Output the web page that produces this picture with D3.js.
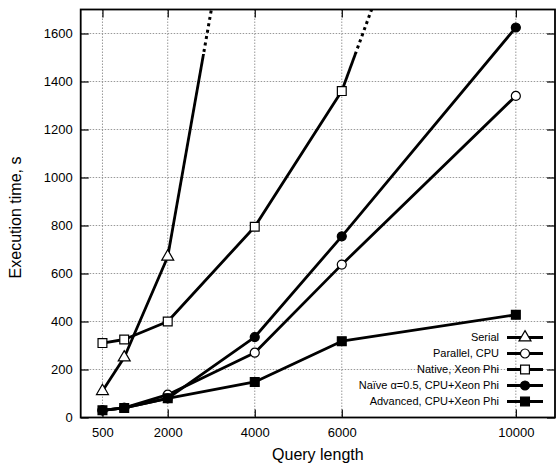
<!DOCTYPE html>
<html>
<head>
<meta charset="utf-8">
<script src="https://cdnjs.cloudflare.com/ajax/libs/d3/7.8.5/d3.min.js"></script>
<style>
  html, body { margin: 0; padding: 0; background: #fff; }
  text { font-family: "Liberation Sans", Arial, Helvetica, sans-serif; fill: #000; }
</style>
</head>
<body>
<svg id="chart" width="556" height="468"></svg>
<script>
// ---- Data ----
const queryLengths = [500, 1000, 2000, 4000, 6000, 10000];
const xTickValues = [500, 2000, 4000, 6000, 10000];
const yTickValues = [0, 200, 400, 600, 800, 1000, 1200, 1400, 1600];

const serialX = [500, 1000, 2000];
const serialY = [110, 250, 670];
const serialNext = [4000, 2724];      // next measurement, above the chart
const parallelY = [30, 40, 95, 270, 637, 1340];
const nativeX = [500, 1000, 2000, 4000, 6000];
const nativeY = [310, 325, 400, 795, 1360];
const nativeNext = [8000, 2352];      // next measurement, above the chart
const naiveY = [30, 40, 80, 335, 755, 1625];
const advancedY = [30, 40, 80, 148, 318, 428];

const seriesNames = ["Serial", "Parallel, CPU", "Native, Xeon Phi",
                     "Naïve α=0.5, CPU+Xeon Phi", "Advanced, CPU+Xeon Phi"];
const solidLimit = 1515; // above this value the off-chart segment is dotted

const xLabel = "Query length";
const yLabel = "Execution time, s";

// ---- Setup ----
const svg = d3.select("#chart");
const L = 80.7, R = 555, T = 9.5, B = 417.5;
const x = d3.scaleLinear().domain([0, 10900]).range([L, R]);
const y = d3.scaleLinear().domain([0, 1700]).range([B, T]);

const zip = (xs, ys) => xs.map((v, i) => [v, ys[i]]);
const series = [
  { name: seriesNames[0], pts: zip(serialX, serialY), next: serialNext, marker: "triangle", fill: "#fff" },
  { name: seriesNames[1], pts: zip(queryLengths, parallelY), marker: "circle", fill: "#fff" },
  { name: seriesNames[2], pts: zip(nativeX, nativeY), next: nativeNext, marker: "square", fill: "#fff" },
  { name: seriesNames[3], pts: zip(queryLengths, naiveY), marker: "circle", fill: "#000" },
  { name: seriesNames[4], pts: zip(queryLengths, advancedY), marker: "square", fill: "#000" }
];

// clip paths
const defs = svg.append("defs");
defs.append("clipPath").attr("id", "clipSolid").append("rect")
  .attr("x", L).attr("width", R - L)
  .attr("y", y(solidLimit)).attr("height", B - y(solidLimit));
defs.append("clipPath").attr("id", "clipDotted").append("rect")
  .attr("x", L).attr("width", R - L)
  .attr("y", T).attr("height", y(solidLimit) - T);

// ---- Grid ----
const grid = svg.append("g");
grid.selectAll("line.gy").data(yTickValues.filter(v => v > 0)).join("line")
  .attr("x1", L).attr("x2", R).attr("y1", d => y(d)).attr("y2", d => y(d))
  .attr("stroke", "#999").attr("stroke-width", 1).attr("stroke-dasharray", "1.5,1.5");
grid.selectAll("line.gx").data(xTickValues).join("line")
  .attr("y1", T).attr("y2", B).attr("x1", d => x(d)).attr("x2", d => x(d))
  .attr("stroke", "#999").attr("stroke-width", 1).attr("stroke-dasharray", "1.5,1.5");

// ---- Axes (gnuplot-style frame with inward mirrored ticks) ----
const tickLen = 8;
const axisBottom = d3.axisBottom(x).tickValues(xTickValues).tickSize(-tickLen).tickPadding(10).tickFormat(d3.format("d"));
const axisTop = d3.axisTop(x).tickValues(xTickValues).tickSize(-tickLen).tickFormat("");
const axisLeft = d3.axisLeft(y).tickValues(yTickValues).tickSize(-tickLen).tickPadding(8).tickFormat(d3.format("d"));
const axisRight = d3.axisRight(y).tickValues(yTickValues).tickSize(-tickLen).tickFormat("");

function styleAxis(g) {
  g.select(".domain").remove();
  g.selectAll(".tick line").attr("stroke", "#000").attr("stroke-width", 1.2);
  g.selectAll(".tick text").attr("font-size", 13).attr("fill", "#000")
    .style("font-family", '"Liberation Sans", Arial, Helvetica, sans-serif');
}
svg.append("g").attr("transform", `translate(0,${B})`).call(axisBottom).call(styleAxis);
svg.append("g").attr("transform", `translate(0,${T})`).call(axisTop).call(styleAxis);
svg.append("g").attr("transform", `translate(${L},0)`).call(axisLeft).call(styleAxis);
svg.append("g").attr("transform", `translate(${R},0)`).call(axisRight).call(styleAxis);

// ---- Lines ----
const line = d3.line().x(d => x(d[0])).y(d => y(d[1]));
const lines = svg.append("g");
series.forEach(s => {
  lines.append("path").attr("d", line(s.pts)).attr("fill", "none")
    .attr("stroke", "#000").attr("stroke-width", 2.8).attr("stroke-linejoin", "round");
  if (s.next) {
    const seg = [s.pts[s.pts.length - 1], s.next];
    lines.append("path").attr("d", line(seg)).attr("fill", "none")
      .attr("stroke", "#000").attr("stroke-width", 2.8)
      .attr("clip-path", "url(#clipSolid)");
    lines.append("path").attr("d", line(seg)).attr("fill", "none")
      .attr("stroke", "#000").attr("stroke-width", 3).attr("stroke-dasharray", "3,3.5")
      .attr("clip-path", "url(#clipDotted)");
  }
});

// ---- Markers ----
function markerPath(type) {
  if (type === "triangle") return d3.symbol(d3.symbolTriangle, 62)();
  if (type === "circle") return d3.symbol(d3.symbolCircle, 64)();
  return d3.symbol(d3.symbolSquare, 78)();
}
const marks = svg.append("g");
series.forEach(s => {
  marks.selectAll(null).data(s.pts).join("path")
    .attr("d", markerPath(s.marker))
    .attr("transform", d => `translate(${x(d[0])},${y(d[1])})`)
    .attr("fill", s.fill).attr("stroke", "#000").attr("stroke-width", 1.2);
});

// ---- Frame ----
svg.append("rect").attr("x", L).attr("y", T).attr("width", R - L).attr("height", B - T)
  .attr("fill", "none").attr("stroke", "#000").attr("stroke-width", 1.8);

// ---- Axis titles ----
svg.append("text").attr("x", (L + R) / 2).attr("y", 460).attr("text-anchor", "middle")
  .attr("font-size", 16).text(xLabel);
svg.append("text").attr("transform", `translate(21,${(T + B) / 2 + 4}) rotate(-90)`)
  .attr("text-anchor", "middle").attr("font-size", 16).text(yLabel);

// ---- Legend ----
const legend = svg.append("g");
series.forEach((s, i) => {
  const cy = 337.5 + i * 16;
  legend.append("text").attr("x", 499).attr("y", cy).attr("dy", "0.35em")
    .attr("text-anchor", "end").attr("font-size", 11).text(s.name);
  legend.append("line").attr("x1", 507).attr("x2", 543).attr("y1", cy).attr("y2", cy)
    .attr("stroke", "#000").attr("stroke-width", 2.8);
  legend.append("path").attr("d", markerPath(s.marker))
    .attr("transform", `translate(525,${cy})`)
    .attr("fill", s.fill).attr("stroke", "#000").attr("stroke-width", 1.2);
});
</script>
</body>
</html>
